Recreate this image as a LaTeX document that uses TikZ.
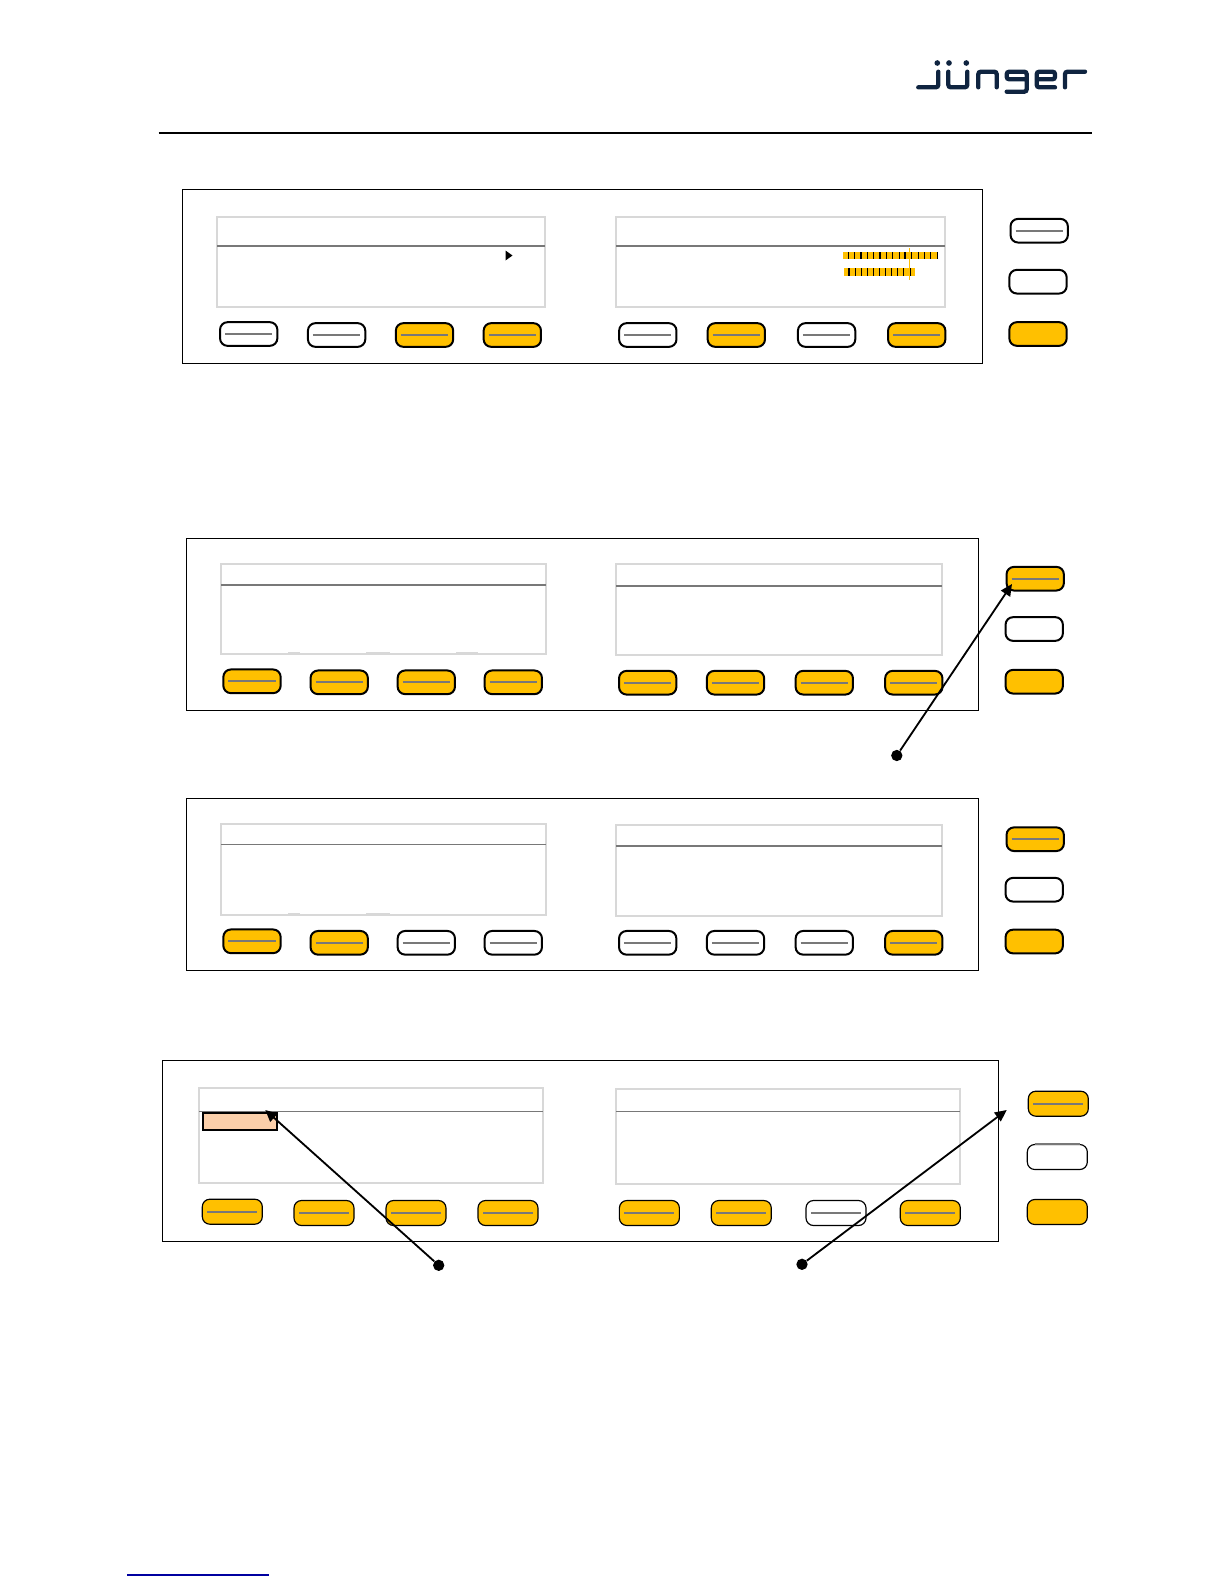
\documentclass[tikz,border=0pt]{standalone}
\definecolor{btnorange}{RGB}{255,192,0}
\definecolor{logonavy}{RGB}{15,36,64}
\definecolor{dispgrey}{RGB}{216,216,216}
\definecolor{rulegrey}{RGB}{120,120,120}
\definecolor{peach}{RGB}{251,207,170}
\definecolor{linkblue}{RGB}{0,0,160}
\usepackage{tikz}
\usetikzlibrary{arrows.meta,positioning,calc}

\begin{document}
\begin{tikzpicture}[
            x=0.6pt, y=-0.6pt,
            size/.style 2 args={minimum width=#1*0.6pt, minimum height=#2*0.6pt},
            panel/.style={rectangle, draw=black, line width=0.6pt, inner sep=0pt, outer sep=0pt},
            display/.style={rectangle, draw=dispgrey, line width=1.2pt, inner sep=0pt, outer sep=0pt},
            rulerline/.style={draw=rulegrey, line width=1pt},
            bump/.style={draw=dispgrey, line width=1.2pt},
            btn/.style={rectangle, draw=black, line width=1.2pt, rounded corners=4.5pt, inner sep=0pt,
                        minimum width=34.4pt, minimum height=14.2pt},
            btnthin/.style={btn, line width=0.7pt, minimum width=36pt, minimum height=15pt},
            on/.style={fill=btnorange},
            off/.style={fill=white},
            lined/.style={path picture={\draw[rulerline] ([xshift=3pt]path picture bounding box.west) -- ([xshift=-3pt]path picture bounding box.east);}},
            dot/.style={circle, fill=black, inner sep=0pt, minimum size=6.8pt},
            arrow/.style={-{Triangle[length=7pt,width=6.5pt]}, line width=1.1pt, black},
            logo/.style={draw=logonavy, line width=2.6pt, line cap=round, rounded corners=1.5pt},
            meterbar/.style={rectangle, fill=btnorange, inner sep=0pt}
        ]
            \useasboundingbox (0,0) rectangle (1224,1584);

            % Logo and page rules
            \draw[logo] (918.3,87.3) -- (938.3,87.3) -- (938.3,71.7);
            \draw[logo] (948.3,71.7) -- (948.3,87.3) -- (967.3,87.3) -- (967.3,71.7);
            \draw[logo] (978.3,87.3) -- (978.3,71.7) -- (996.7,71.7) -- (996.7,87.3);
            \draw[logo] (1026.7,79.3) -- (1006.7,79.3) -- (1006.7,71.7) -- (1026.7,71.7) -- (1026.7,91.7) -- (1006.7,91.7);
            \draw[logo] (1036.7,79.3) -- (1055,79.3) -- (1055,71.7) -- (1036.7,71.7) -- (1036.7,87.3) -- (1055,87.3);
            \draw[logo] (1065,87.3) -- (1065,71.7) -- (1085,71.7);
            \fill[logonavy] (937.3,63) circle (1.7pt) (949,63) circle (1.7pt) (966.3,63) circle (1.7pt);
            \draw[black, line width=1.2pt] (158.6,133) -- (1092,133);
            \draw[linkblue, line width=0.7pt] (127,1575) -- (269,1575);

            % Panel 1
            \node[panel, size={800}{173.5}] (p1) at (582.3,276.25) {};
            \node[display, size={328}{90}] (d1a) at (381.3,261.5) {};
            \node[display, size={329}{90}] (d1b) at (780.5,261.5) {};
            \draw[rulerline] (d1a.west |- 0,246) -- (d1a.east |- 0,246);
            \draw[rulerline] (d1b.west |- 0,246) -- (d1b.east |- 0,246);
            \fill[black] (505.5,250.5) -- (512.5,255.5) -- (505.5,260.5) -- cycle;
            % Meters
            \node[meterbar, size={95}{7.6}] (m1) at (890.5,255.5) {};
            \node[meterbar, size={71}{7.7}] (m2) at (879.5,272.2) {};
            \foreach \i in {0,...,14} \draw[black, line width=0.7pt] ({848.3+6.35*\i},252) -- ({848.3+6.35*\i},259.3);
            \foreach \i in {5,9} \draw[black, line width=1.2pt] ({848.3+6.35*\i},252) -- ({848.3+6.35*\i},259.3);
            \foreach \i in {0,...,10} \draw[black, line width=0.7pt] ({849+6.1*\i},268.3) -- ({849+6.1*\i},276);
            \draw[btnorange, line width=0.5pt] (909.3,248) -- (909.3,280);
            % Buttons
            \node[btn, off, lined] (b11) at (248.7,334) {};
            \node[btn, off, lined] (b12) at (336.6,335) {};
            \node[btn, on, lined] (b13) at (424.5,335) {};
            \node[btn, on, lined] (b14) at (512.3,335) {};
            \node[btn, off, lined] (b15) at (647.8,335) {};
            \node[btn, on, lined] (b16) at (736.3,335) {};
            \node[btn, off, lined] (b17) at (826.6,335) {};
            \node[btn, on, lined] (b18) at (916.7,335) {};
            \node[btn, off, lined] (s11) at (1039.2,230.7) {};
            \node[btn, off] (s12) at (1038,281.7) {};
            \node[btn, on] (s13) at (1038,334) {};

            % Panel 2
            \node[panel, size={792.3}{172}] (p2) at (582.5,624.3) {};
            \node[display, size={325}{90.6}] (d2a) at (383.7,609) {};
            \node[display, size={326}{90.5}] (d2b) at (779,609.6) {};
            \draw[rulerline] (d2a.west |- 0,584.7) -- (d2a.east |- 0,584.7);
            \draw[rulerline] (d2b.west |- 0,585.8) -- (d2b.east |- 0,585.8);
            \draw[bump] (288,652.8) -- (300,652.8);
            \draw[bump] (366,652.8) -- (390,652.8);
            \draw[bump] (456,652.8) -- (478,652.8);
            % Buttons
            \node[btn, on, lined] (b21) at (252,681.3) {};
            \node[btn, on, lined] (b22) at (339.2,682.3) {};
            \node[btn, on, lined] (b23) at (426.3,682.3) {};
            \node[btn, on, lined] (b24) at (513.3,682.3) {};
            \node[btn, on, lined] (b25) at (647.7,682.7) {};
            \node[btn, on, lined] (b26) at (735.5,682.7) {};
            \node[btn, on, lined] (b27) at (824.3,682.7) {};
            \node[btn, on, lined] (b28) at (913.8,682.7) {};
            \node[btn, on, lined] (s21) at (1035.2,578.7) {};
            \node[btn, off] (s22) at (1034.2,629) {};
            \node[btn, on] (s23) at (1034.2,681.7) {};

            % Panel 3
            \node[panel, size={792.3}{172.5}] (p3) at (582.5,884.25) {};
            \node[display, size={325}{90.7}] (d3a) at (383.7,869.7) {};
            \node[display, size={326}{90.5}] (d3b) at (779,870.5) {};
            \draw[rulerline] (d3a.west |- 0,844.5) -- (d3a.east |- 0,844.5);
            \draw[rulerline] (d3b.west |- 0,845.8) -- (d3b.east |- 0,845.8);
            \draw[bump] (288,913.8) -- (300,913.8);
            \draw[bump] (366,913.8) -- (390,913.8);
            % Buttons
            \node[btn, on, lined] (b31) at (252,941.3) {};
            \node[btn, on, lined] (b32) at (339.2,942.8) {};
            \node[btn, off, lined] (b33) at (426.3,942.8) {};
            \node[btn, off, lined] (b34) at (513.3,942.8) {};
            \node[btn, off, lined] (b35) at (647.7,942.8) {};
            \node[btn, off, lined] (b36) at (735.5,942.8) {};
            \node[btn, off, lined] (b37) at (824.3,942.8) {};
            \node[btn, on, lined] (b38) at (913.8,942.8) {};
            \node[btn, on, lined] (s31) at (1035.2,839.2) {};
            \node[btn, off] (s32) at (1034.2,889.7) {};
            \node[btn, on] (s33) at (1034.2,941.5) {};

            % Panel 4
            \node[panel, size={836}{181}] (p4) at (580.3,1150.8) {};
            \node[display, size={344}{94.7}] (d4a) at (371.2,1135.7) {};
            \node[display, size={344}{95.3}] (d4b) at (788.2,1136.7) {};
            \draw[rulerline, line width=0.6pt] (d4a.west |- 0,1111.7) -- (d4a.east |- 0,1111.7);
            \draw[rulerline, line width=0.6pt] (d4b.west |- 0,1111.3) -- (d4b.east |- 0,1111.3);
            \node[rectangle, draw=black, fill=peach, line width=1.1pt, inner sep=0pt, size={74.5}{17.2}] (sel) at (240,1121.4) {};
            % Buttons
            \node[btnthin, on, lined] (b41) at (232.3,1211.7) {};
            \node[btnthin, on, lined] (b42) at (324,1213) {};
            \node[btnthin, on, lined] (b43) at (416,1213) {};
            \node[btnthin, on, lined] (b44) at (508,1213) {};
            \node[btnthin, on, lined] (b45) at (649.4,1213) {};
            \node[btnthin, on, lined] (b46) at (741.3,1213) {};
            \node[btnthin, off, lined] (b47) at (836,1213) {};
            \node[btnthin, on, lined] (b48) at (930.3,1213) {};
            \node[btnthin, on, lined] (s41) at (1058.3,1103.7) {};
            \node[btnthin, off] (s42) at (1057.3,1157) {};
            \node[btnthin, on] (s43) at (1057.3,1212) {};
            \draw[rulerline] ($(s42.north west)+(8,0)$) -- ($(s42.north east)+(-8,0)$);

            % Arrows
            \node[dot] (dot2) at (896.8,755.5) {};
            \node[dot] (dot4a) at (438.7,1265.3) {};
            \node[dot] (dot4b) at (802,1264.3) {};
            \coordinate (tip2) at (1012,584);
            \coordinate (tip4a) at (265.3,1110);
            \coordinate (tip4b) at (1006.7,1110);
            \draw[arrow] (dot2) -- (tip2);
            \draw[arrow] (dot4a) -- (tip4a);
            \draw[arrow] (dot4b) -- (tip4b);
        \end{tikzpicture}
\end{document}
